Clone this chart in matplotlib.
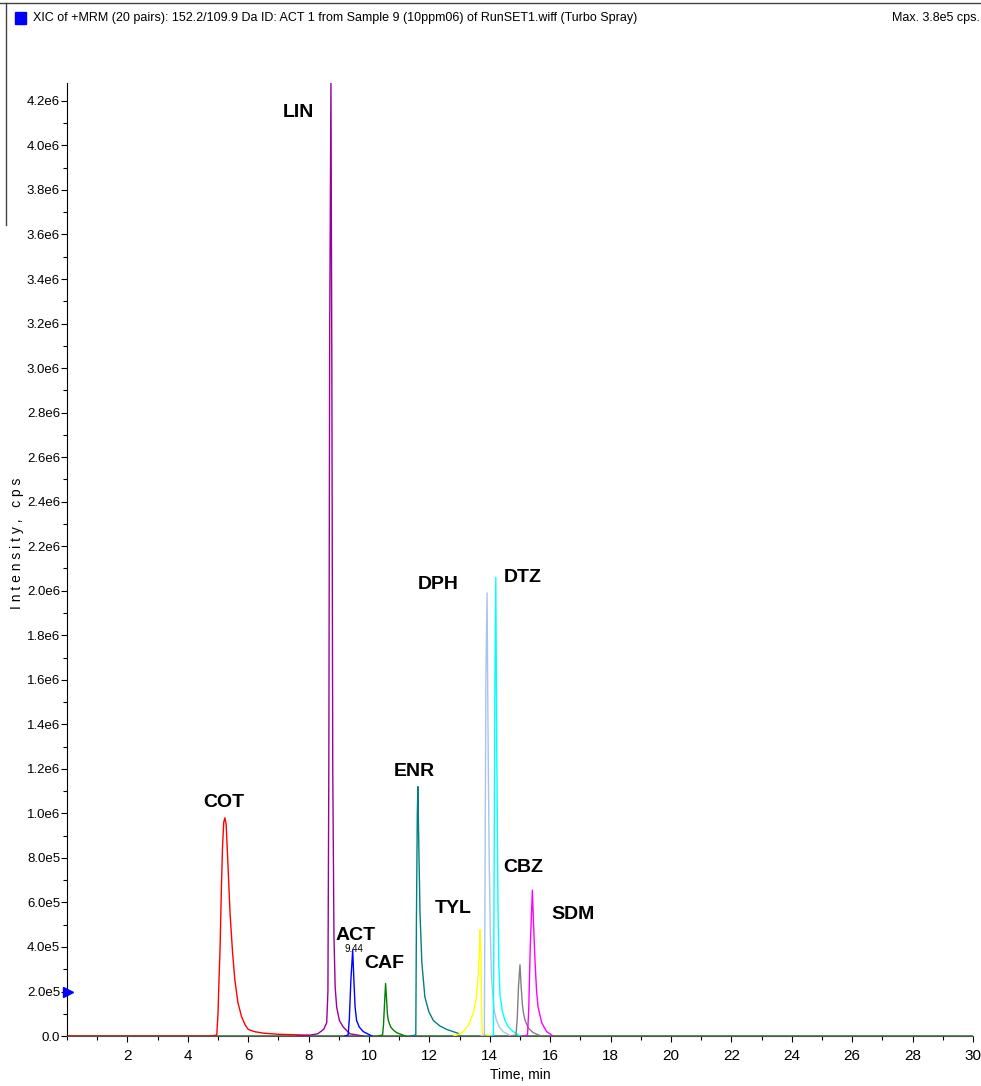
import numpy as np
import matplotlib.pyplot as plt
from matplotlib.ticker import MultipleLocator, FixedLocator

# peak traces (time min, intensity cps)
cot_t = [0.0, 4.8, 4.96, 5.00, 5.04, 5.07, 5.11, 5.15, 5.19, 5.23, 5.27, 5.32, 5.40,
         5.48, 5.56, 5.66, 5.78, 5.90, 6.0, 6.2, 6.5, 7.0, 8.0]
cot_i = [0, 0, 0.005e6, 0.10e6, 0.28e6, 0.40e6, 0.65e6, 0.85e6, 0.96e6, 0.98e6, 0.95e6,
         0.80e6, 0.55e6, 0.38e6, 0.25e6, 0.15e6, 0.087e6, 0.05e6, 0.03e6, 0.02e6,
         0.013e6, 0.008e6, 0.004e6]

lin_t = [7.6, 8.0, 8.3, 8.5, 8.6, 8.64, 8.67, 8.70, 8.74, 8.77, 8.80, 8.84, 8.88,
         8.93, 9.02, 9.15, 9.37, 9.8]
lin_i = [0, 0.003e6, 0.01e6, 0.03e6, 0.06e6, 0.2e6, 1.2e6, 3.2e6, 4.28e6, 3.0e6, 1.2e6,
         0.45e6, 0.22e6, 0.13e6, 0.07e6, 0.04e6, 0.01e6, 0]

act_t = [9.2, 9.31, 9.35, 9.40, 9.46, 9.50, 9.54, 9.59, 9.68, 9.81, 10.1]
act_i = [0, 0.005e6, 0.08e6, 0.25e6, 0.386e6, 0.25e6, 0.13e6, 0.07e6, 0.04e6, 0.02e6, 0]

caf_t = [10.3, 10.45, 10.48, 10.52, 10.55, 10.58, 10.61, 10.64, 10.72, 10.82, 10.92, 11.2]
caf_i = [0, 0.005e6, 0.05e6, 0.16e6, 0.236e6, 0.17e6, 0.10e6, 0.07e6, 0.04e6, 0.025e6,
         0.015e6, 0]

enr_t = [11.4, 11.55, 11.57, 11.60, 11.62, 11.65, 11.69, 11.75, 11.85, 11.98, 12.13,
         12.35, 12.57, 13.0]
enr_i = [0, 0.005e6, 0.5e6, 1.0e6, 1.12e6, 0.85e6, 0.55e6, 0.33e6, 0.176e6, 0.11e6,
         0.07e6, 0.045e6, 0.03e6, 0.01e6]

tyl_t = [12.8, 13.0, 13.12, 13.30, 13.45, 13.55, 13.62, 13.66, 13.68, 13.71, 13.73,
         13.75, 13.9, 14.1]
tyl_i = [0, 0.01e6, 0.02e6, 0.05e6, 0.10e6, 0.17e6, 0.28e6, 0.40e6, 0.478e6, 0.35e6,
         0.1e6, 0.01e6, 0.005e6, 0]

dph_t = [13.7, 13.82, 13.84, 13.87, 13.91, 13.94, 13.98, 14.02, 14.06, 14.14, 14.22,
         14.32, 14.44, 14.7]
dph_i = [0, 0.005e6, 0.6e6, 1.6e6, 1.99e6, 1.4e6, 0.8e6, 0.45e6, 0.25e6, 0.12e6,
         0.07e6, 0.04e6, 0.02e6, 0]

dtz_t = [14.0, 14.12, 14.14, 14.17, 14.20, 14.23, 14.27, 14.30, 14.34, 14.42, 14.50,
         14.62, 14.78, 15.0]
dtz_i = [0, 0.005e6, 0.6e6, 1.6e6, 2.06e6, 1.3e6, 0.6e6, 0.32e6, 0.18e6, 0.11e6,
         0.07e6, 0.04e6, 0.02e6, 0]

cbz_t = [14.7, 14.87, 14.91, 14.95, 15.00, 15.04, 15.08, 15.12, 15.17, 15.28, 15.44, 15.7]
cbz_i = [0, 0.005e6, 0.08e6, 0.22e6, 0.32e6, 0.22e6, 0.14e6, 0.10e6, 0.07e6, 0.035e6,
         0.015e6, 0]

sdm_t = [15.1, 15.25, 15.29, 15.34, 15.41, 15.45, 15.50, 15.55, 15.60, 15.72, 15.88, 16.1]
sdm_i = [0, 0.005e6, 0.12e6, 0.40e6, 0.655e6, 0.50e6, 0.33e6, 0.20e6, 0.13e6, 0.06e6,
         0.02e6, 0]

traces = [
    (cot_t, cot_i, "red"),
    (lin_t, lin_i, "#990099"),
    (act_t, act_i, "blue"),
    (caf_t, caf_i, "green"),
    (enr_t, enr_i, "#008080"),
    (tyl_t, tyl_i, "yellow"),
    (dph_t, dph_i, "#a9c4ec"),
    (dtz_t, dtz_i, "cyan"),
    (cbz_t, cbz_i, "grey"),
    (sdm_t, sdm_i, "magenta"),
]

# compound labels (name, x, y)
lab_names = ["LIN", "COT", "ACT", "CAF", "ENR", "DPH", "DTZ", "TYL", "CBZ", "SDM"]
lab_x = [7.65, 5.2, 9.55, 10.5, 11.5, 12.3, 15.1, 12.8, 15.1, 16.75]
lab_y = [4.15e6, 1.05e6, 0.45e6, 0.325e6, 1.19e6, 2.03e6, 2.06e6, 0.575e6, 0.755e6, 0.545e6]

yticks = np.arange(0, 4.21e6, 0.2e6)
ytick_labels = ["0.0", "2.0e5", "4.0e5", "6.0e5", "8.0e5", "1.0e6", "1.2e6", "1.4e6",
                "1.6e6", "1.8e6", "2.0e6", "2.2e6", "2.4e6", "2.6e6", "2.8e6", "3.0e6",
                "3.2e6", "3.4e6", "3.6e6", "3.8e6", "4.0e6", "4.2e6"]

font = "Liberation Sans"

fig = plt.figure(figsize=(9.81, 10.86), dpi=100)
ax = fig.add_axes([0.0683, 0.046, 0.9235, 0.8775])

ax.axhline(0, color="#2e7d32", lw=1.2, zorder=1)
for t, y, c in traces:
    ax.plot(t, y, color=c, lw=1.0, zorder=2)

for n, x, y in zip(lab_names, lab_x, lab_y):
    ax.text(x, y, n, fontsize=14, fontweight="bold", family=font,
            ha="center", va="center")
ax.text(9.5, 0.39e6, "9.44", fontsize=7, family=font, ha="center", va="center")

ax.set_xlim(0, 30)
ax.set_ylim(0, 4.28e6)
ax.xaxis.set_major_locator(FixedLocator(np.arange(2, 31, 2)))
ax.xaxis.set_minor_locator(MultipleLocator(1))
ax.set_yticks(yticks)
ax.set_yticklabels(ytick_labels)
ax.yaxis.set_minor_locator(MultipleLocator(1e5))
ax.tick_params(axis="both", which="major", direction="out", length=4, width=0.8,
               labelsize=9.5)
ax.tick_params(axis="both", which="minor", direction="out", length=3, width=0.8)
for lbl in ax.get_xticklabels() + ax.get_yticklabels():
    lbl.set_family(font)
ax.tick_params(axis="y", pad=1)
ax.tick_params(axis="x", pad=5, labelsize=11)

for s in ["top", "right"]:
    ax.spines[s].set_visible(False)
ax.spines["bottom"].set_color("#555555")

ax.set_xlabel("Time, min", fontsize=10, family=font, labelpad=4)
fig.text(0.017, 0.5, "I n t e n s i t y ,   c p s", rotation=90, fontsize=10,
         ha="center", va="center", family=font)

# blue arrow marker on y axis
ax.plot([0.03], [0.2e6], marker=">", color="blue", markersize=7, clip_on=False, zorder=5)

# window frame and header
fig.add_artist(plt.Line2D([0, 1], [0.997, 0.997], color="#444444", lw=1))
fig.add_artist(plt.Line2D([0.006, 0.006], [0.997, 0.793], color="#444444", lw=1))
fig.add_artist(plt.Rectangle((0.015, 0.978), 0.011, 0.011, color="blue"))
fig.text(0.034, 0.983, "XIC of +MRM (20 pairs): 152.2/109.9 Da ID: ACT 1 from Sample 9 (10ppm06) of RunSET1.wiff (Turbo Spray)",
         fontsize=9, family=font, va="center", ha="left")
fig.text(0.999, 0.983, "Max. 3.8e5 cps.", fontsize=9, family=font, va="center", ha="right")

fig.savefig("out.png", dpi=100)
